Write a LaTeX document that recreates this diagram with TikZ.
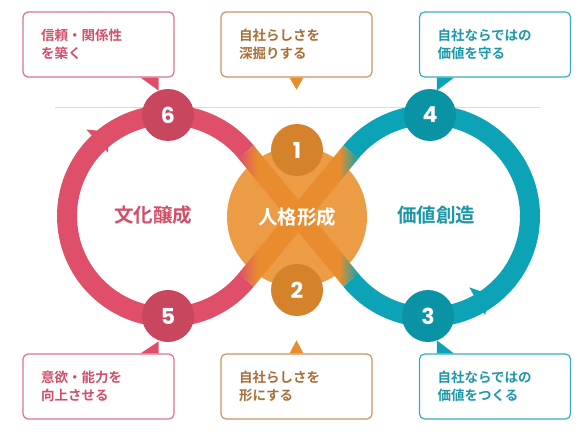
\documentclass[tikz,border=0pt]{standalone}
\usepackage{fontspec}
\newfontfamily\jpfont{Noto Sans CJK JP}[BoldFont={* Bold}]
\newfontfamily\numfont{Poppins}
\usetikzlibrary{calc}
\definecolor{ringpink}{RGB}{224,79,105}
\definecolor{ringorange}{RGB}{233,140,46}
\definecolor{ringteal}{RGB}{11,163,181}
\definecolor{hubfill}{RGB}{237,156,70}
\definecolor{pinkdot}{RGB}{201,70,95}
\definecolor{orangedot}{RGB}{213,131,43}
\definecolor{tealdot}{RGB}{10,147,165}
\definecolor{pinkline}{RGB}{221,116,135}
\definecolor{pinktext}{RGB}{208,80,106}
\definecolor{brownline}{RGB}{201,149,96}
\definecolor{browntext}{RGB}{168,112,58}
\definecolor{tealline}{RGB}{53,174,189}
\definecolor{tealtext}{RGB}{30,152,169}
\definecolor{pinkrule}{RGB}{246,205,214}
\definecolor{tealrule}{RGB}{189,232,238}
\pgfdeclarehorizontalshading{bandshade}{100bp}{color(0bp)=(ringpink); color(25bp)=(ringpink);
  color(33bp)=(ringorange); color(67bp)=(ringorange); color(75bp)=(ringteal); color(100bp)=(ringteal)}

\begin{document}
\begin{tikzpicture}[x=1pt,y=-1pt,
    ring/.style={line width=20pt},
    numdot/.style={circle,minimum size=52pt,inner sep=0pt,text=white,
      font=\numfont\bfseries\fontsize{22}{22}\selectfont},
    loopname/.style={font=\jpfont\bfseries\fontsize{19.5}{20}\selectfont},
    callout/.style={draw=#1line,fill=white,text=#1text,rounded corners=5pt,line width=1.2pt,
      text width=115pt,inner xsep=18pt,minimum height=65pt,align=left,
      font=\jpfont\bfseries\fontsize{13.5}{18}\selectfont}]
  \useasboundingbox (0,0) rectangle (588,436);

  % thin rule behind the top dots
  \draw[pinkrule,line width=1pt] (55,107) -- (297,107);
  \draw[tealrule,line width=1pt] (297,107) -- (540,107);

  \coordinate (L) at (168,216);
  \coordinate (R) at (429,216);
  \node[circle,fill=hubfill,minimum size=140pt,inner sep=0pt] (hub) at (297,217) {};

  % the two loops
  \draw[ring,ringpink] ($(L)+(-39.3:101pt)$) arc[start angle=-39.3,end angle=-320.7,radius=101pt];
  \draw[ring,ringteal] ($(R)+(219.3:101pt)$) arc[start angle=219.3,end angle=500.7,radius=101pt];

  % crossing bands
  \coordinate (la) at ($(L)+(39.3:101pt)$);
  \coordinate (lb) at ($(L)+(-39.3:101pt)$);
  \coordinate (ra) at ($(R)+(140.7:101pt)$);
  \coordinate (rb) at ($(R)+(219.3:101pt)$);
  \foreach \p/\q in {la/rb,lb/ra}
    \shade[shading=bandshade] ($(\p)!10pt!90:(\q)$) -- ($(\q)!10pt!-90:(\p)$)
      -- ($(\q)!10pt!90:(\p)$) -- ($(\p)!10pt!-90:(\q)$) -- cycle;

  % arrow heads
  \begin{scope}[shift={($(L)+(133.4:103pt)$)},rotate=43.4]
    \fill[ringpink] (0pt,16pt) -- (14pt,0pt) -- (0pt,-16pt) -- cycle;
  \end{scope}
  \begin{scope}[shift={($(R)+(-60.5:98pt)$)},rotate=29.5]
    \fill[ringteal] (0pt,16pt) -- (14pt,0pt) -- (0pt,-16pt) -- cycle;
  \end{scope}

  \node[loopname,text=white] at (hub.center) {人格形成};
  \node[loopname,text=pinktext] (culture) at (153,215) {文化醸成};
  \node[loopname,text=tealtext] (value) at (436,215) {価値創造};

  \foreach \n/\x/\y/\c in {1/297/150/orangedot,2/297/290/orangedot,3/428/316/tealdot,
      4/430/115/tealdot,5/168/316/pinkdot,6/168/115/pinkdot}
    \node[numdot,fill=\c] (n\n) at (\x,\y) {\n};

  \foreach \n/\x/\y/\c/\t in {6/98.5/44.5/pink/信頼・関係性\\を築く,
      1/296.5/44.5/brown/自社らしさを\\深掘りする,
      4/495/44.5/teal/自社ならではの\\価値を守る,
      5/98.5/386.5/pink/意欲・能力を\\向上させる,
      2/296.5/386.5/brown/自社らしさを\\形にする,
      3/495/386.5/teal/自社ならではの\\価値をつくる}
    \node[callout=\c] (b\n) at (\x,\y) {\t};

  % pointers
  \fill[ringpink] ($(b6.south east)+(-34,0)$) -- ($(b6.south east)+(-16,0)$) -- ++(0,13) -- cycle;
  \fill[ringorange] ($(b1.south)+(-7,0)$) -- ($(b1.south)+(7,0)$) -- ++(-7,12) -- cycle;
  \fill[ringteal] ($(b4.south west)+(35,0)$) -- ($(b4.south west)+(18,0)$) -- ++(0,13) -- cycle;
  \fill[ringpink] ($(b5.north east)+(-34,0)$) -- ($(b5.north east)+(-16,0)$) -- ++(0,-12) -- cycle;
  \fill[ringorange] ($(b2.north)+(-7,0)$) -- ($(b2.north)+(7,0)$) -- ++(-7,-13) -- cycle;
  \fill[ringteal] ($(b3.north west)+(35,0)$) -- ($(b3.north west)+(18,0)$) -- ++(0,-13) -- cycle;
\end{tikzpicture}
\end{document}
